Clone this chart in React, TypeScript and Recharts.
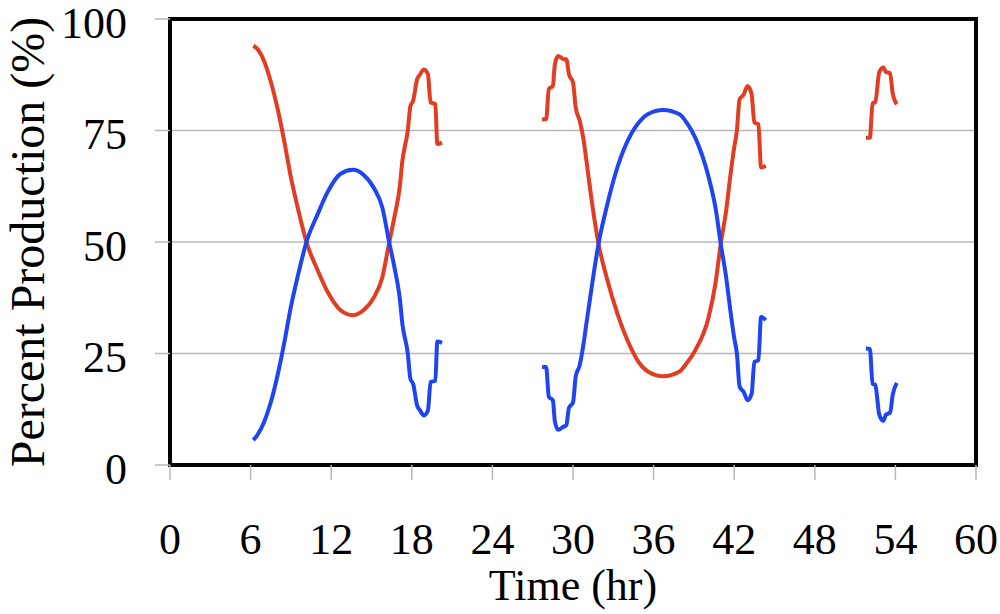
import { LineChart, Line, XAxis, YAxis, CartesianGrid, ReferenceArea, Label } from 'recharts'

// three sampling windows, gaps in between
const hours1 = [6.2, 6.5, 7.0, 7.5, 8.0, 8.5, 9.0, 9.5, 10.2, 11.0, 11.7, 12.7, 13.6, 14.4, 15.2, 15.8, 16.3, 16.7, 17.1, 17.3, 17.7, 17.9, 18.1, 18.4, 18.6, 18.9, 19.2, 19.4, 19.75, 19.9, 20.25]
const red1 = [94, 93.3, 90.6, 86, 80, 72.7, 64.5, 57.8, 49.6, 43.6, 39, 34.7, 33.6, 34.7, 37.7, 42, 49.6, 55.5, 62.3, 68.2, 75, 80.5, 81.7, 86.5, 87.5, 88.7, 87.6, 81.3, 80.9, 72, 72.3]
const blue1 = [5.6, 6.7, 9.6, 14, 20, 27.3, 35.5, 42.2, 50.4, 56.3, 61, 65.3, 66.2, 65.1, 62, 57.8, 50.2, 44.4, 37.5, 31.6, 25, 19.3, 18.2, 13.3, 12.3, 11.1, 12.2, 18.6, 18.9, 27.7, 27.4]

const hours2 = [27.7, 28.0, 28.2, 28.5, 28.65, 28.9, 29.3, 29.5, 29.7, 30.0, 30.2, 30.5, 30.8, 31.0, 31.5, 31.9, 32.5, 33.3, 34.4, 34.9, 35.6, 36.7, 37.9, 38.5, 39.1, 40.1, 40.6, 41.0, 41.4, 41.7, 42.0, 42.2, 42.4, 42.7, 43.0, 43.3, 43.5, 43.8, 44.0, 44.35]
const red2 = [77.5, 77.5, 84.3, 85, 89.8, 91.7, 91, 91, 87.6, 85.8, 80.2, 77.2, 72.7, 68.2, 57, 49.6, 42.1, 34, 25.7, 23, 20.9, 19.9, 20.9, 23, 25.7, 33.2, 40.6, 49.6, 57, 64.5, 71.2, 75, 82, 83, 85, 83.1, 76.8, 76.4, 66.7, 67.1]
const blue2 = [22, 22, 15.3, 14.5, 9.8, 7.9, 8.6, 8.9, 12.8, 14, 19.8, 22.4, 27.5, 31.8, 42.1, 49.6, 57.8, 66.7, 74.6, 76.8, 78.7, 79.6, 78.7, 76.6, 73.4, 64.5, 57.8, 49.6, 42.1, 35, 28.5, 25, 17.6, 16.4, 14.5, 16, 23.1, 23.5, 33.2, 32.5]

const hours3 = [51.8, 52.1, 52.3, 52.5, 52.8, 53.1, 53.3, 53.6, 53.8, 54.1]
const red3 = [73.4, 73.4, 81.1, 81.3, 88.1, 89.1, 88.1, 87.9, 83.3, 80.9]
const blue3 = [26.1, 26, 18.2, 18, 11.3, 9.9, 11.3, 11.7, 15.7, 18.4]

const gapHours = [24, 48]
const xTicks = [0, 6, 12, 18, 24, 30, 36, 42, 48, 54, 60]
const yTicks = [0, 25, 50, 75, 100]

const segments = [
  { hours: hours1, red: red1, blue: blue1 },
  { hours: hours2, red: red2, blue: blue2 },
  { hours: hours3, red: red3, blue: blue3 },
]

const data: { hr: number; red: number | null; blue: number | null }[] = []
segments.forEach((s, i) => {
  s.hours.forEach((h, j) => data.push({ hr: h, red: s.red[j], blue: s.blue[j] }))
  if (i < gapHours.length) data.push({ hr: gapHours[i], red: null, blue: null })
})

const font = "'Liberation Serif', 'Times New Roman', serif"
const tickStyle = { fontSize: 44, fill: '#000', fontFamily: font }

export default function App() {
  return (
    <div style={{ position: 'absolute', left: 0, top: 0, background: '#fff' }}>
      <LineChart width={1000} height={614} data={data} margin={{ top: 19, right: 24, left: 0, bottom: 0 }}>
        <CartesianGrid vertical={false} stroke="#b8b8b8" strokeWidth={1.5} />
        <XAxis
          dataKey="hr"
          type="number"
          domain={[0, 60]}
          ticks={xTicks}
          height={149}
          axisLine={false}
          tickSize={15}
          tickMargin={43}
          tickLine={{ stroke: '#b8b8b8', strokeWidth: 1.5 }}
          tick={tickStyle}
          interval={0}
        >
          <Label
            content={({ viewBox }: any) => (
              <text
                x={viewBox.x + viewBox.width / 2}
                y={600}
                textAnchor="middle"
                fontSize={44}
                fontFamily={font}
                fill="#000"
              >
                Time (hr)
              </text>
            )}
          />
        </XAxis>
        <YAxis
          domain={[0, 100]}
          ticks={yTicks}
          width={170}
          axisLine={false}
          tickSize={15}
          tickMargin={28}
          tickLine={{ stroke: '#b8b8b8', strokeWidth: 1.5 }}
          tick={{ ...tickStyle, dy: 3 }}
          interval={0}
        >
          <Label
            content={({ viewBox }: any) => {
              const cy = viewBox.y + viewBox.height / 2
              return (
                <text
                  x={44}
                  y={cy}
                  transform={`rotate(-90, 44, ${cy})`}
                  textAnchor="middle"
                  fontSize={48}
                  fontFamily={font}
                  fill="#000"
                >
                  Percent Production (%)
                </text>
              )
            }}
          />
        </YAxis>
        <ReferenceArea x1={0} x2={60} y1={0} y2={100} fill="none" stroke="#000" strokeWidth={4} />
        <Line
          type="monotone"
          dataKey="red"
          stroke="#e23d22"
          strokeWidth={4}
          dot={false}
          isAnimationActive={false}
        />
        <Line
          type="monotone"
          dataKey="blue"
          stroke="#1f44f2"
          strokeWidth={4}
          dot={false}
          isAnimationActive={false}
        />
      </LineChart>
    </div>
  )
}
